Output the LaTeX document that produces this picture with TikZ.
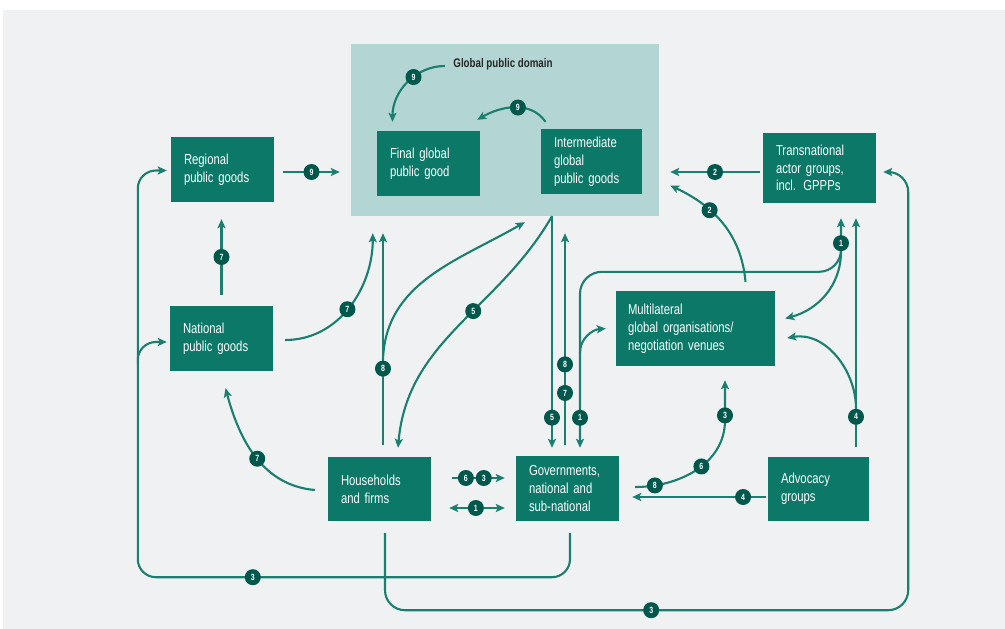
\documentclass[tikz,border=0pt]{standalone}
\usepackage{fontspec}
\setmainfont{Liberation Sans}[FakeStretch=0.78]
\usetikzlibrary{arrows.meta, positioning, calc}

\definecolor{boxgreen}{HTML}{0B7868}
\definecolor{linegreen}{HTML}{1A7F6F}
\definecolor{badgegreen}{HTML}{00574B}
\definecolor{domainblue}{HTML}{B3D5D3}
\definecolor{pagegray}{HTML}{F0F1F3}

\begin{document}
\begin{tikzpicture}[x=1pt, y=1pt,
    >={Stealth[length=9pt, width=8pt, inset=2pt]},
    box/.style    = {rectangle, fill=boxgreen, text=white, align=left,
                     inner xsep=13pt, minimum height=65pt,
                     font=\fontsize{14.5}{17.8}\selectfont},
    badge/.style  = {circle, fill=badgegreen, text=white, inner sep=0pt,
                     minimum size=16pt, font=\fontsize{9}{9}\bfseries\selectfont},
    arrow/.style  = {draw=linegreen, line width=2.1pt, ->},
    twoway/.style = {draw=linegreen, line width=2.1pt, <->},
    thin/.style   = {draw=linegreen, line width=1.5pt, ->}
]

\useasboundingbox (0,0) rectangle (1005,-629);
\fill[white] (0,0) rectangle (1005,-629);
\fill[pagegray] (3,-10) rectangle (1005,-629);

% =====================
% Nodes
% =====================

% Global public domain
\node[fill=domainblue, inner sep=0pt, minimum width=308pt, minimum height=172pt] (domain) at (505,-130) {};
\node[font=\fontsize{12.5}{13}\bfseries\selectfont, text=black!85] (domainlabel) at (503,-64) {Global public domain};

\node[box, text width=77pt] (final) at (428.5,-163.5) {Final global\\public good};
\node[box, text width=75pt] (interm) at (591.5,-161.5) {Intermediate\\global\\public goods};

% Left column
\node[box, text width=77pt] (regional) at (222.5,-169.5) {Regional\\public goods};
\node[box, text width=77pt] (national) at (221.5,-338.5) {National\\public goods};

% Right side
\node[box, text width=87pt, minimum height=70pt] (trans) at (819.5,-168) {Transnational\\actor groups,\\incl. GPPPs};
\node[box, text width=135pt, minimum height=75pt, inner xsep=12pt] (multi) at (695.5,-328.5) {Multilateral\\global organisations/\\negotiation venues};

% Bottom row
\node[box, text width=77pt, minimum height=64pt] (house) at (379.5,-489) {Households\\and firms};
\node[box, text width=77pt] (gov) at (567.5,-488.5) {Governments,\\national and\\sub-national};
\node[box, text width=75pt, minimum height=64pt] (advoc) at (818.5,-489) {Advocacy\\groups};

% helper points
\coordinate (ig)   at ($(interm.south |- domain.south)+(-39.5,0)$);
\coordinate (tr1)  at ($(trans.south)+(21.5,-15)$);
\coordinate (gv1)  at ($(gov.north)+(12.5,8)$);
\coordinate (row1) at ($(multi.north)+(0,19)$);
\coordinate (ad1)  at ($(advoc.north)+(37.5,10)$);
\coordinate (gvb)  at ($(gov.south)+(2.5,-12)$);
\coordinate (hb)   at ($(house.south)+(5.5,-12)$);
\coordinate (lb)   at ($(regional.west |- house.south)+(-33,-56)$);
\coordinate (rb)   at ($(advoc.east |- hb)+(39,-77)$);

% ====================================
% Connections
% ====================================

% inside the global public domain
\draw[arrow] ($(domainlabel.west)+(-5,-2)$) to[out=180,in=90] node[badge,pos=0.4]{9} ($(final.north)+(-36,9)$);
\draw[arrow] ($(interm.north)+(-46,7)$) to[out=125,in=30] node[badge,pos=0.45]{9} ($(final.north east)+(-3,11)$);

% regional and national goods
\draw[arrow] ($(regional.east)+(9,-2.5)$) -- node[badge]{9} ($(domain.west |- regional.east)+(-11,-2.5)$);
\draw[arrow] ($(national.north)+(0,11)$) -- node[badge]{7} ($(national.north |- regional.south)+(0,-17)$);
\draw[arrow] ($(national.east)+(12,-1.5)$) to[out=0,in=-90] node[badge,pos=0.48]{7} ($(final.south west)+(-4,-37)$);

% households and firms
\draw[arrow] ($(house.north)+(3.5,12)$) -- node[badge,pos=0.36] (h8) {8} ($(house.north |- final.south)+(3.5,-37)$);
\draw[arrow] (h8.north) to[out=88,in=-150] ($(interm.south west)+(-16,-28)$);
\draw[arrow] ($(house.west)+(-13,-1)$) to[out=175,in=-75] node[badge,pos=0.48]{7} ($(national.south)+(4,-17)$);

% intermediate goods down
\draw[arrow] (ig) to[out=-120,in=85] node[badge,pos=0.42]{5} ($(house.north)+(18.5,9)$);
\draw[arrow] (ig) -- node[badge,pos=0.87]{5} ($(ig |- gov.north)+(0,8)$);

% governments up
\draw[thin] ($(gov.north)+(-2.5,11)$) -- node[badge,pos=0.245]{7} node[badge,pos=0.38]{8} ($(gov.north |- domain.south)+(-2.5,-17)$);

% transnational network
\draw[twoway, rounded corners=22pt] (tr1) -- (tr1 |- row1) -- (gv1 |- row1) -- (gv1);
\draw[arrow] ($(gv1 |- multi.west)+(0,-24)$) to[out=90,in=185] ($(multi.west)+(-10,0)$);
\node[badge] (t1) at ($(tr1)+(0,-25)$) {1};
\node[badge] (g1) at ($(gv1)+(0,30)$) {1};
\draw[arrow] (t1.south) to[out=-90,in=15] ($(multi.east)+(10,10)$);

\draw[arrow] ($(trans.west)+(-3,-4)$) -- node[badge]{2} ($(interm.east |- trans.west)+(28,-4)$);
\draw[arrow] ($(multi.north)+(50,9)$) to[out=95,in=-25] node[badge,pos=0.65]{2} ($(interm.east)+(28,-24)$);

% advocacy groups
\draw[thin] (ad1) -- (ad1 |- tr1);
\node[badge] (a4) at ($(ad1)+(0,30)$) {4};
\draw[arrow] (a4.north) to[out=90,in=10] ($(multi.east)+(12,-9.5)$);
\draw[arrow] ($(advoc.west)+(-2,-8)$) -- node[badge,pos=0.17]{4} ($(gov.east |- advoc.west)+(13,-8)$);

% governments to multilateral venues
\draw[arrow] ($(gov.east)+(16,1.5)$) to[out=0,in=-90] node[badge,pos=0.15]{8} node[badge,pos=0.55]{6} ($(multi.south)+(29.5,-54)$)
    -- node[badge,pos=0.12]{3} ($(multi.south)+(29.5,-14)$);

% households <-> governments
\draw[arrow] ($(house.east)+(21,11)$) -- node[badge,pos=0.26]{6} node[badge,pos=0.6]{3} ($(gov.west)+(-11,10.5)$);
\draw[twoway] ($(house.east)+(18,-19)$) -- node[badge,pos=0.48]{1} ($(gov.west)+(-11,-19.5)$);

% outer loops
\draw[arrow, rounded corners=18pt] (gvb) |- (lb) |- ($(regional.west)+(-4,-1)$);
\draw[arrow, rounded corners=18pt] ($(lb |- national.west)+(0,-25)$) |- ($(national.west)+(-3,-3.5)$);
\node[badge] (l3) at ($(lb)+(115,0)$) {3};

\draw[arrow, rounded corners=20pt] (hb) |- (rb) |- ($(trans.east)+(7,-4)$);
\node[badge] (r3) at ($(rb)+(-257,0)$) {3};

\end{tikzpicture}
\end{document}
